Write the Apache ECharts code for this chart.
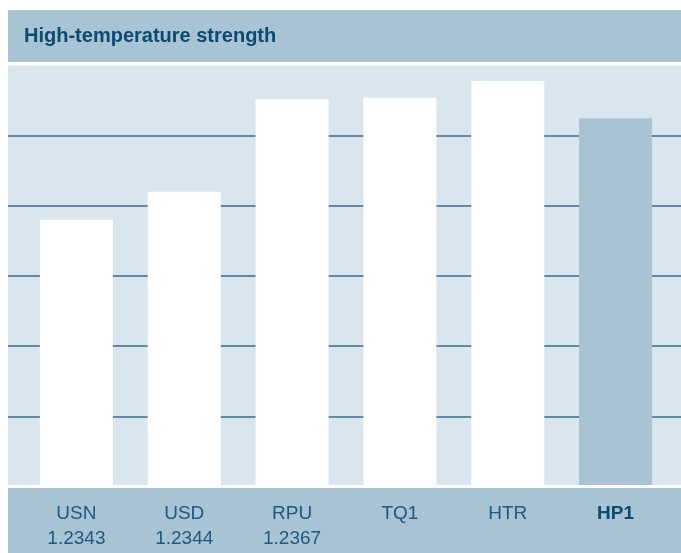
<!DOCTYPE html>
<html>
<head>
<meta charset="utf-8">
<script src="https://cdn.jsdelivr.net/npm/echarts@6/dist/echarts.min.js"></script>
<style>
  html, body { margin: 0; padding: 0; background: #fff; }
  #chart { width: 681px; height: 553px; }
</style>
</head>
<body>
<div id="chart"></div>
<script>
// data
const categories = ['USN', 'USD', 'RPU', 'TQ1', 'HTR', 'HP1']
const subLabels = ['1.2343', '1.2344', '1.2367', '', '', '']
const strength = [3.80, 4.20, 5.52, 5.54, 5.78, 5.25]
const highlight = 'HP1'

const band = '#a7c3d4'
const plotBg = '#dae6ee'
const textDark = '#0c4a6f'

const chart = echarts.init(document.getElementById('chart'))

chart.setOption({
  animation: false,
  textStyle: { fontFamily: 'Liberation Sans, Arial, sans-serif' },
  graphic: [
    // title band
    { type: 'rect', z: -1, shape: { x: 8, y: 10, width: 673, height: 52 }, style: { fill: band } },
    { type: 'text', left: 24, top: 26, style: { text: 'High-temperature strength', fill: textDark, font: 'bold 20px "Liberation Sans", Arial, sans-serif' } },
    // label band under plot
    { type: 'rect', z: -1, shape: { x: 8, y: 488, width: 673, height: 65 }, style: { fill: band } },
    // white separator over bar feet
    { type: 'rect', z: 100, shape: { x: 8, y: 485, width: 673, height: 3 }, style: { fill: '#fff' } }
  ],
  grid: [
    // full width: background + gridlines
    { left: 8, right: 0, top: 65.5, bottom: 66.5, show: true, backgroundColor: plotBg, borderWidth: 0 },
    // bars
    { left: 22.5, right: 11.5, top: 65.5, bottom: 66.5 }
  ],
  xAxis: [
    { gridIndex: 0, type: 'value', show: false, min: 0, max: 1 },
    {
      gridIndex: 1,
      type: 'category',
      data: categories,
      axisLine: { show: false },
      axisTick: { show: false },
      axisLabel: {
        margin: 15,
        interval: 0,
        formatter: (v, i) => {
          const tag = v === highlight ? 'b' : 'a'
          return subLabels[i] ? `{${tag}|${v}}\n{a|${subLabels[i]}}` : `{${tag}|${v}}`
        },
        rich: {
          a: { fontSize: 19, lineHeight: 25, color: '#1c5a80', fontFamily: 'Liberation Sans' },
          b: { fontSize: 19, lineHeight: 25, color: textDark, fontWeight: 'bold', fontFamily: 'Liberation Sans' }
        }
      }
    }
  ],
  yAxis: [
    {
      gridIndex: 0,
      type: 'value',
      min: 0,
      max: 6,
      interval: 1,
      axisLine: { show: false },
      axisTick: { show: false },
      axisLabel: { show: false },
      splitLine: { show: true, showMinLine: false, showMaxLine: false, lineStyle: { color: '#3a6a8e', width: 1.5 } }
    },
    {
      gridIndex: 1,
      type: 'value',
      min: 0,
      max: 6,
      interval: 1,
      show: false,
      splitLine: { show: false }
    }
  ],
  series: [{
    type: 'bar',
    xAxisIndex: 1,
    yAxisIndex: 1,
    barWidth: 73,
    z: 5,
    data: strength.map((v, i) => ({
      value: v,
      itemStyle: { color: categories[i] === highlight ? band : '#ffffff' }
    }))
  }]
})
</script>
</body>
</html>
